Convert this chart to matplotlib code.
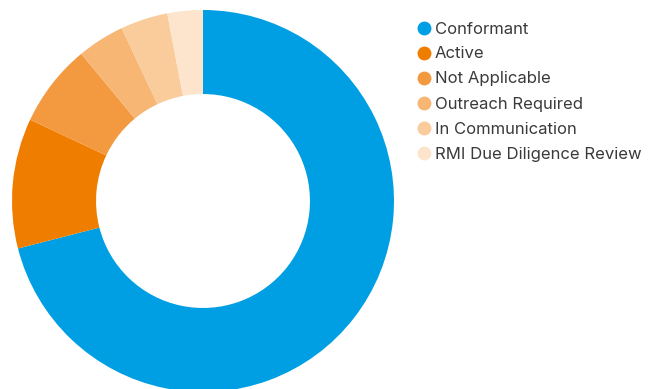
import matplotlib
matplotlib.use("Agg")
import matplotlib.pyplot as plt
from matplotlib.lines import Line2D

labels = ["Conformant", "Active", "Not Applicable", "Outreach Required",
          "In Communication", "RMI Due Diligence Review"]
values = [71, 11, 7, 4, 4, 3]
colors = ["#009FE3", "#EF7D00", "#F39A40", "#F7B673", "#FACB9B", "#FDE5CD"]

W, H = 659, 389
fig = plt.figure(figsize=(W / 100, H / 100), dpi=100)
cx, cy, R = 203, 201, 191
ax = fig.add_axes([(cx - R) / W, (H - cy - R) / H, 2 * R / W, 2 * R / H])
ax.pie(values, colors=colors, startangle=90, counterclock=False,
       wedgeprops=dict(width=0.44, linewidth=0), radius=1)
ax.set_xlim(-1, 1)
ax.set_ylim(-1, 1)
ax.set_aspect("auto")
ax.axis("off")

for i, (lab, col) in enumerate(zip(labels, colors)):
    y = 1 - (27.5 + 25 * i) / H
    fig.add_artist(Line2D([424.5 / W], [y], marker="o", markersize=10,
                          markerfacecolor=col, markeredgewidth=0,
                          transform=fig.transFigure))
    fig.text(435 / W, y - 1.5 / H, lab, fontsize=12, family="Inter",
             color="#3a3a3a", va="center", ha="left")

fig.savefig("out.png", dpi=100)
